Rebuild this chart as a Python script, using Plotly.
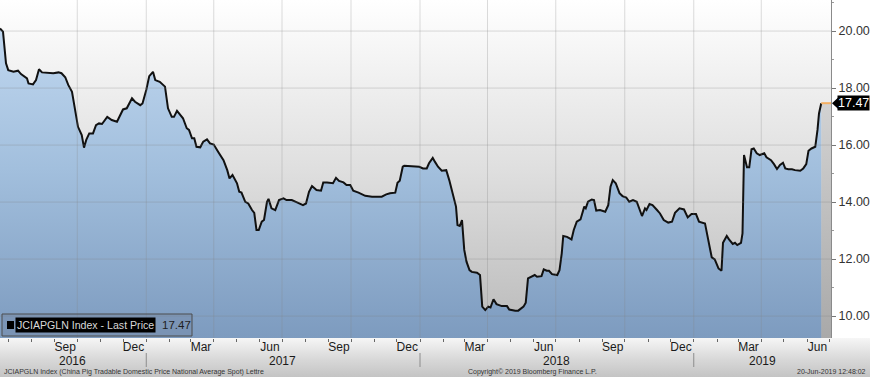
import base64
import pandas as pd
import plotly.graph_objects as go

# ---------------- data ----------------
dates = [
"2016-06-20","2016-06-24","2016-06-28","2016-07-01","2016-07-08","2016-07-14","2016-07-18","2016-07-22","2016-07-26","2016-07-28",
"2016-08-03","2016-08-07","2016-08-11","2016-08-15","2016-08-30","2016-09-06","2016-09-10","2016-09-15","2016-09-19","2016-09-24",
"2016-09-28","2016-10-02","2016-10-07","2016-10-10","2016-10-13","2016-10-17","2016-10-22","2016-10-26","2016-10-30","2016-11-03",
"2016-11-10","2016-11-16","2016-11-23","2016-11-27","2016-12-01","2016-12-06","2016-12-13","2016-12-17","2016-12-24","2016-12-27",
"2017-01-01","2017-01-05","2017-01-10","2017-01-13","2017-01-19","2017-01-26","2017-01-30","2017-02-04","2017-02-07","2017-02-11",
"2017-02-15","2017-02-19","2017-02-24","2017-02-27","2017-03-03","2017-03-06","2017-03-09","2017-03-14","2017-03-18","2017-03-23",
"2017-03-27","2017-04-01","2017-04-07","2017-04-14","2017-04-19","2017-04-22","2017-04-26","2017-05-02","2017-05-05","2017-05-08",
"2017-05-13","2017-05-17","2017-05-22","2017-05-25","2017-05-28","2017-05-31","2017-06-04","2017-06-07","2017-06-11","2017-06-13",
"2017-06-17","2017-06-22","2017-06-27","2017-07-03","2017-07-07","2017-07-14","2017-07-21","2017-07-29","2017-08-02","2017-08-06",
"2017-08-10","2017-08-16","2017-08-22","2017-08-25","2017-08-30","2017-09-07","2017-09-11","2017-09-15","2017-09-21","2017-09-25",
"2017-09-30","2017-10-04","2017-10-11","2017-10-20","2017-10-29","2017-11-11","2017-11-17","2017-11-22","2017-11-29","2017-12-02",
"2017-12-05","2017-12-09","2017-12-11","2017-12-23","2017-12-31","2018-01-05","2018-01-10","2018-01-13","2018-01-18","2018-01-21",
"2018-01-25","2018-01-30","2018-02-05","2018-02-09","2018-02-13","2018-02-18","2018-02-20","2018-02-23","2018-02-26","2018-03-01",
"2018-03-04","2018-03-08","2018-03-11","2018-03-18","2018-03-22","2018-03-25","2018-03-29","2018-04-02","2018-04-05","2018-04-09",
"2018-04-13","2018-04-20","2018-04-27","2018-04-30","2018-05-08","2018-05-12","2018-05-19","2018-05-22","2018-05-25","2018-05-30",
"2018-06-03","2018-06-06","2018-06-12","2018-06-15","2018-06-19","2018-06-22","2018-06-26","2018-07-03","2018-07-06","2018-07-09",
"2018-07-11","2018-07-16","2018-07-22","2018-07-25","2018-07-29","2018-08-03","2018-08-08","2018-08-10","2018-08-13","2018-08-18",
"2018-08-21","2018-08-24","2018-08-29","2018-09-05","2018-09-09","2018-09-12","2018-09-15","2018-09-19","2018-09-24","2018-09-28",
"2018-10-03","2018-10-07","2018-10-12","2018-10-17","2018-10-21","2018-10-24","2018-10-28","2018-10-30","2018-11-03","2018-11-07",
"2018-11-13","2018-11-17","2018-11-22","2018-11-28","2018-12-03","2018-12-07","2018-12-13","2018-12-19","2018-12-24","2018-12-29",
"2019-01-04","2019-01-08","2019-01-16","2019-01-19","2019-01-23","2019-01-25","2019-01-29","2019-02-03","2019-02-07","2019-02-09",
"2019-02-14","2019-02-17","2019-02-22","2019-02-25","2019-02-28","2019-03-05","2019-03-07","2019-03-09","2019-03-13","2019-03-16",
"2019-03-19","2019-03-22","2019-03-26","2019-03-30","2019-04-05","2019-04-08","2019-04-14","2019-04-18","2019-04-22","2019-04-26",
"2019-04-30","2019-05-03","2019-05-07","2019-05-12","2019-05-16","2019-05-23","2019-05-27","2019-05-31","2019-06-03","2019-06-07",
"2019-06-12","2019-06-15","2019-06-17","2019-06-20"]

values = [
20.09, 19.98, 18.87, 18.63, 18.57, 18.61, 18.49, 18.42, 18.34, 18.16,
18.13, 18.28, 18.66, 18.55, 18.52, 18.55, 18.52, 18.38, 18.11, 17.87,
17.29, 16.64, 16.35, 15.91, 16.18, 16.41, 16.41, 16.70, 16.76, 16.74,
16.99, 16.88, 16.82, 17.05, 17.25, 17.29, 17.64, 17.52, 17.40, 17.46,
17.93, 18.42, 18.57, 18.28, 18.22, 18.05, 17.29, 16.99, 16.99, 17.20,
17.05, 16.94, 16.59, 16.53, 16.24, 16.24, 15.94, 15.92, 16.12, 16.20,
16.06, 16.02, 15.76, 15.47, 15.12, 14.83, 14.95, 14.66, 14.36, 14.33,
14.01, 13.95, 13.72, 13.62, 13.02, 13.02, 13.31, 13.37, 14.01, 14.11,
13.78, 13.72, 14.07, 14.13, 14.07, 14.07, 13.99, 13.89, 13.95, 14.36,
14.56, 14.42, 14.40, 14.69, 14.69, 14.66, 14.85, 14.74, 14.69, 14.60,
14.60, 14.40, 14.33, 14.22, 14.19, 14.19, 14.27, 14.31, 14.33, 14.68,
14.75, 15.24, 15.27, 15.24, 15.24, 15.18, 15.18, 15.36, 15.55, 15.41,
15.24, 15.10, 15.12, 14.77, 14.31, 13.84, 13.19, 13.16, 13.37, 12.32,
11.91, 11.61, 11.55, 11.52, 11.44, 10.33, 10.21, 10.33, 10.30, 10.59,
10.42, 10.35, 10.35, 10.23, 10.19, 10.19, 10.33, 10.47, 11.32, 11.40,
11.44, 11.38, 11.40, 11.64, 11.59, 11.59, 11.47, 11.44, 11.61, 12.20,
12.81, 12.78, 12.69, 13.02, 13.31, 13.39, 13.84, 13.78, 14.01, 14.09,
14.07, 13.70, 13.72, 13.66, 13.89, 14.54, 14.77, 14.66, 14.31, 14.21,
14.16, 14.01, 14.07, 14.01, 13.72, 13.51, 13.78, 13.72, 13.93, 13.89,
13.72, 13.60, 13.37, 13.28, 13.31, 13.62, 13.78, 13.74, 13.46, 13.58,
13.58, 13.31, 13.25, 12.90, 12.32, 12.06, 11.99, 11.67, 11.59, 12.57,
12.81, 12.69, 12.53, 12.57, 12.49, 12.57, 12.90, 15.65, 15.22, 15.22,
15.85, 15.88, 15.71, 15.65, 15.71, 15.57, 15.47, 15.33, 15.16, 15.30,
15.38, 15.18, 15.15, 15.15, 15.12, 15.10, 15.18, 15.33, 15.80, 15.88,
15.94, 16.53, 17.11, 17.47]

x_start, x_end = "2016-06-20", "2019-07-03"
y_min, y_max = 9.23, 21.09
y_ticks = [10, 12, 14, 16, 18, 20]
y_tick_text = ["10.00", "12.00", "14.00", "16.00", "18.00", "20.00"]
y_minor_ticks = [11, 13, 15, 17, 19, 21]

month_label_dates = ["2016-09-15", "2016-12-15", "2017-03-15", "2017-06-15",
                     "2017-09-15", "2017-12-15", "2018-03-15", "2018-06-15",
                     "2018-09-15", "2018-12-15", "2019-03-15", "2019-06-15"]
month_labels = ["Sep", "Dec", "Mar", "Jun", "Sep", "Dec", "Mar", "Jun",
                "Sep", "Dec", "Mar", "Jun"]
year_label_dates = ["2016-09-25", "2017-07-02", "2018-07-02", "2019-04-03"]
year_labels = ["2016", "2017", "2018", "2019"]
quarter_lines = ["2016-10-01", "2017-01-01", "2017-04-01", "2017-07-01",
                 "2017-10-01", "2018-01-01", "2018-04-01", "2018-07-01",
                 "2018-10-01", "2019-01-01", "2019-04-01"]
year_breaks = ["2017-01-01", "2018-01-01", "2019-01-01"]

series_name = "JCIAPGLN Index - Last Price"
footer_left = "JCIAPGLN Index (China Pig Tradable Domestic Price National Average Spot) Lettre"
footer_mid = "Copyright\u00a9 2019 Bloomberg Finance L.P."
footer_right = "20-Jun-2019 12:48:02"

last_price = values[-1]
last_txt = f"{last_price:.2f}"

# ---------------- layout geometry ----------------
W, H = 870, 377
ML, MR, MT, MB = 0, 39, 0, 39
PW, PH = W - ML - MR, H - MT - MB
FONT = "Liberation Sans, Arial, sans-serif"


def px_x(p):  # pixel -> paper x
    return (p - ML) / PW


def px_y(p):  # pixel (from top) -> paper y
    return 1 - (p - MT) / PH


def grad_uri(stops):
    s = "".join(f'<stop offset="{o}" stop-color="{c}"/>' for o, c in stops)
    svg = ('<svg xmlns="http://www.w3.org/2000/svg" width="10" height="100" '
           'viewBox="0 0 10 100" preserveAspectRatio="none"><defs>'
           f'<linearGradient id="g" x1="0" y1="0" x2="0" y2="1">{s}</linearGradient>'
           '</defs><rect width="10" height="100" fill="url(#g)"/></svg>')
    return "data:image/svg+xml;base64," + base64.b64encode(svg.encode()).decode()


fig = go.Figure()

# grey "future" band after last observation
fig.add_trace(go.Scatter(
    x=[dates[-1], x_end], y=[last_price, last_price], mode="lines",
    line=dict(width=0), fill="tozeroy",
    fillgradient=dict(type="vertical", start=y_min, stop=last_price,
                      colorscale=[[0, "#a9a9a9"], [1, "#d2d2d2"]]),
    hoverinfo="skip", showlegend=False))

# main series
fig.add_trace(go.Scatter(
    x=dates, y=values, mode="lines", name=series_name,
    line=dict(color="#111111", width=2),
    fill="tozeroy",
    fillgradient=dict(type="vertical", start=y_min, stop=y_max,
                      colorscale=[[0, "#7d9bbf"], [0.5, "#a2bfdd"], [1, "#c6dcf3"]]),
    showlegend=False))

# orange last-price extension
fig.add_trace(go.Scatter(
    x=[dates[-1], x_end], y=[last_price, last_price], mode="lines",
    line=dict(color="#f4b063", width=2), hoverinfo="skip", showlegend=False))

shapes = []
grid_col = "rgba(130,130,130,0.28)"
for v in y_ticks:
    shapes.append(dict(type="line", xref="paper", yref="y", x0=0, x1=1, y0=v, y1=v,
                       line=dict(color=grid_col, width=1), layer="above"))
for d in quarter_lines:
    shapes.append(dict(type="line", xref="x", yref="paper", x0=d, x1=d, y0=0, y1=1,
                       line=dict(color=grid_col, width=1), layer="above"))
for d in year_breaks:
    shapes.append(dict(type="line", xref="x", yref="paper", x0=d, x1=d,
                       y0=px_y(353), y1=px_y(367),
                       line=dict(color="#8c8c8c", width=1)))

# legend box
shapes.append(dict(type="rect", xref="paper", yref="paper",
                   x0=px_x(2), x1=px_x(192), y0=px_y(336), y1=px_y(314),
                   line=dict(color="#4d4d4d", width=1),
                   fillcolor="rgba(110,125,150,0.28)", layer="above"))
shapes.append(dict(type="rect", xref="paper", yref="paper",
                   x0=px_x(7), x1=px_x(14), y0=px_y(329), y1=px_y(321),
                   line=dict(width=0), fillcolor="#000000", layer="above"))

# price tag pointer
dy = 6.5 * (y_max - y_min) / PH
shapes.append(dict(type="path", xref="paper", yref="y",
                   path=(f"M {1 + 1/PW} {last_price} L {1 + 8/PW} {last_price + dy} "
                         f"L {1 + 8/PW} {last_price - dy} Z"),
                   fillcolor="#000000", line=dict(width=0)))

annotations = []
annotations.append(dict(xref="paper", yref="y", x=px_x(837), y=last_price,
                        xanchor="left", yanchor="middle", text=last_txt,
                        showarrow=False, bgcolor="#000000", borderpad=0,
                        font=dict(family=FONT, size=12.5, color="#ffffff")))
annotations.append(dict(xref="paper", yref="paper", x=px_x(15), y=px_y(325),
                        xanchor="left", yanchor="middle", text=series_name,
                        showarrow=False, bgcolor="#000000", borderpad=1,
                        font=dict(family=FONT, size=10.6, color="#d8d8d8")))
annotations.append(dict(xref="paper", yref="paper", x=px_x(160), y=px_y(325),
                        xanchor="left", yanchor="middle", text=last_txt,
                        showarrow=False,
                        font=dict(family=FONT, size=11.5, color="#1e1e1e")))
for d, t in zip(year_label_dates, year_labels):
    annotations.append(dict(xref="x", yref="paper", x=d, y=px_y(361),
                            xanchor="center", yanchor="middle", text=t,
                            showarrow=False,
                            font=dict(family=FONT, size=12, color="#1a1a1a")))
annotations.append(dict(xref="paper", yref="paper", x=px_x(2), y=px_y(371.5),
                        xanchor="left", yanchor="middle", text=footer_left,
                        showarrow=False, font=dict(family=FONT, size=7, color="#333333")))
annotations.append(dict(xref="paper", yref="paper", x=px_x(532), y=px_y(371.5),
                        xanchor="center", yanchor="middle", text=footer_mid,
                        showarrow=False, font=dict(family=FONT, size=7, color="#333333")))
annotations.append(dict(xref="paper", yref="paper", x=px_x(868), y=px_y(371.5),
                        xanchor="right", yanchor="middle", text=footer_right,
                        showarrow=False, font=dict(family=FONT, size=7, color="#333333")))

images = [
    dict(source=grad_uri([(0, "#ffffff"), (0.5, "#dfdfdf"), (1, "#b9b9b9")]),
         xref="paper", yref="paper", x=0, y=1, sizex=1, sizey=1,
         xanchor="left", yanchor="top", sizing="stretch", layer="below"),
    dict(source=grad_uri([(0, "#f6f6f6"), (0.55, "#d8d8d8"), (1, "#c4c4c4")]),
         xref="paper", yref="paper", x=0, y=0, sizex=W / PW, sizey=MB / PH,
         xanchor="left", yanchor="top", sizing="stretch", layer="below"),
]

month_starts = pd.date_range("2016-07-01", "2019-07-01", freq="MS")

fig.update_layout(
    width=W, height=H,
    margin=dict(l=ML, r=MR, t=MT, b=MB, pad=0),
    paper_bgcolor="#ffffff", plot_bgcolor="rgba(0,0,0,0)",
    font=dict(family=FONT, color="#1a1a1a"),
    shapes=shapes, annotations=annotations, images=images,
    showlegend=False,
    xaxis=dict(type="date", range=[x_start, x_end], fixedrange=True,
               tickmode="array", tickvals=month_label_dates, ticktext=month_labels,
               ticks="", showgrid=False, zeroline=False, showline=False,
               tickfont=dict(family=FONT, size=12, color="#1a1a1a"),
               ticklabelstandoff=0,
               minor=dict(tickmode="array", tickvals=list(month_starts),
                          ticks="outside", ticklen=3, tickcolor="#666666",
                          showgrid=False)),
    yaxis=dict(range=[y_min, y_max], side="right", fixedrange=True,
               tickmode="array", tickvals=y_ticks, ticktext=y_tick_text,
               ticks="outside", ticklen=4, tickcolor="#777777",
               showgrid=False, zeroline=False,
               showline=True, linecolor="#8a8a8a", linewidth=1,
               tickfont=dict(family=FONT, size=12.5, color="#333333"),
               minor=dict(tickmode="array", tickvals=y_minor_ticks,
                          ticks="outside", ticklen=2, tickcolor="#999999",
                          showgrid=False)),
)

fig.write_html("out.html")
